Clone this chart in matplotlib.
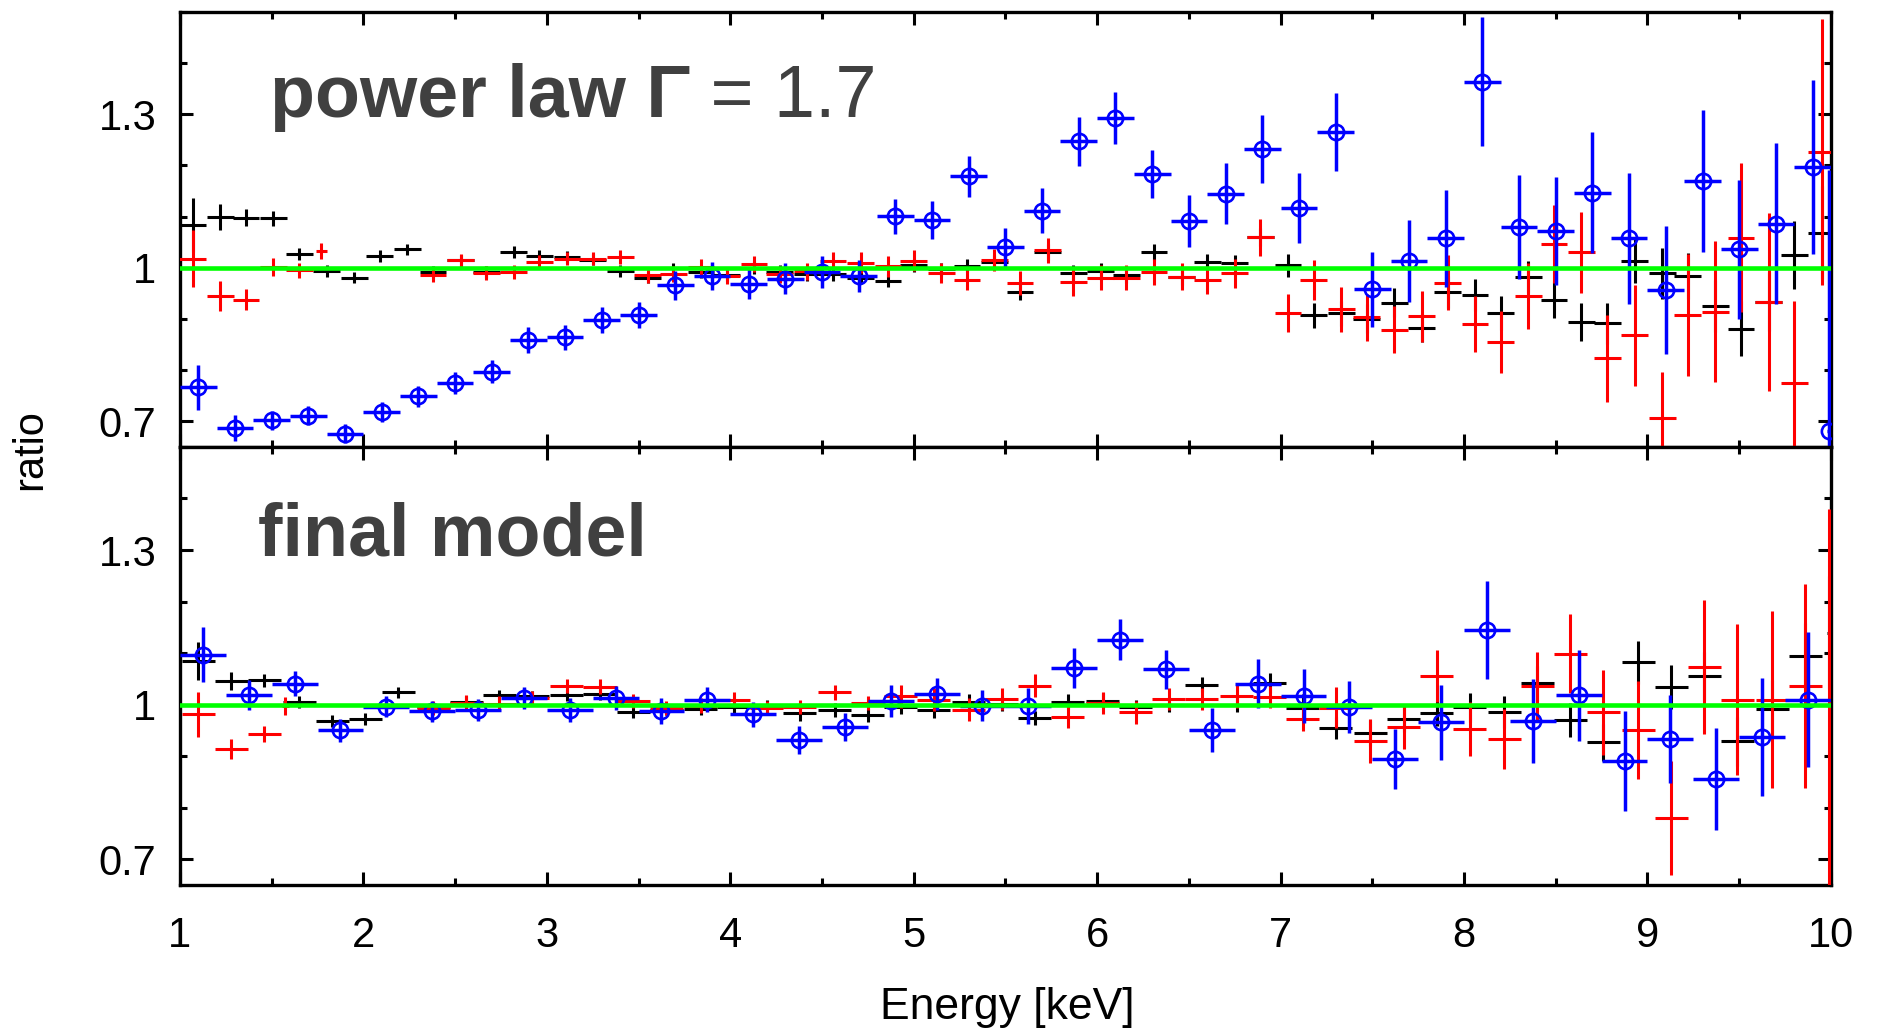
import numpy as np
import matplotlib
matplotlib.use("Agg")
import matplotlib.pyplot as plt
from matplotlib.ticker import MultipleLocator, FixedLocator, FixedFormatter

plt.rcParams['font.family'] = ['Liberation Sans', 'DejaVu Sans']

# ---------------- upper panel: power law fit ----------------
top_black_e = [1.07, 1.22, 1.36, 1.51, 1.65, 1.80, 1.95, 2.09, 2.24, 2.38,
               2.53, 2.67, 2.82, 2.96, 3.11, 3.25, 3.40, 3.55, 3.69, 3.84,
               3.98, 4.13, 4.27, 4.42, 4.56, 4.71, 4.86, 5.00, 5.15, 5.29,
               5.44, 5.58, 5.73, 5.87, 6.02, 6.16, 6.31, 6.46, 6.60, 6.75,
               6.89, 7.04, 7.18, 7.33, 7.47, 7.62, 7.77, 7.91, 8.06, 8.20,
               8.35, 8.49, 8.64, 8.78, 8.93, 9.08, 9.22, 9.37, 9.51, 9.66,
               9.80, 9.95]
top_black_r = [1.083, 1.099, 1.098, 1.097, 1.027, 0.994, 0.981, 1.023, 1.036, 0.992,
               1.015, 0.992, 1.031, 1.023, 1.021, 1.016, 0.994, 0.981, 0.999, 0.992,
               0.986, 1.000, 0.992, 0.988, 0.988, 0.981, 0.975, 1.005, 0.997, 1.004,
               1.012, 0.953, 1.031, 0.989, 0.993, 0.986, 1.031, 0.983, 1.012, 1.009,
               1.060, 1.005, 0.907, 0.911, 0.901, 0.932, 0.882, 0.953, 0.947, 0.912,
               0.982, 0.938, 0.895, 0.892, 1.014, 0.989, 0.984, 0.925, 0.881, 0.934,
               1.025, 1.069]
top_black_err = [0.053, 0.026, 0.017, 0.015, 0.011, 0.011, 0.011, 0.011, 0.011, 0.011,
                 0.011, 0.011, 0.011, 0.011, 0.011, 0.011, 0.011, 0.011, 0.011, 0.011,
                 0.011, 0.013, 0.013, 0.013, 0.013, 0.013, 0.013, 0.013, 0.013, 0.013,
                 0.013, 0.016, 0.016, 0.016, 0.016, 0.016, 0.016, 0.016, 0.016, 0.016,
                 0.018, 0.022, 0.024, 0.024, 0.028, 0.028, 0.027, 0.031, 0.031, 0.033,
                 0.032, 0.036, 0.037, 0.040, 0.043, 0.049, 0.045, 0.051, 0.054, 0.058,
                 0.067, 0.090]
top_black_de = 0.073

top_red_e = [1.07, 1.22, 1.36, 1.51, 1.65, 1.77,
             2.38, 2.53, 2.67, 2.82, 2.96, 3.11, 3.25, 3.40, 3.55, 3.69,
             3.84, 3.98, 4.13, 4.27, 4.42, 4.56, 4.71, 4.86, 5.00, 5.15,
             5.29, 5.44, 5.58, 5.73, 5.87, 6.02, 6.16, 6.31, 6.46, 6.60,
             6.75, 6.89, 7.04, 7.18, 7.33, 7.47, 7.62, 7.77, 7.91, 8.06,
             8.20, 8.35, 8.49, 8.64, 8.78, 8.93, 9.08, 9.22, 9.37, 9.51,
             9.66, 9.80, 9.95]
top_red_r = [1.018, 0.945, 0.938, 1.002, 0.995, 1.033,
             0.986, 1.015, 0.990, 0.992, 1.012, 1.018, 1.018, 1.021, 0.986, 0.988,
             1.002, 0.985, 1.008, 0.987, 0.993, 1.014, 1.010, 1.003, 1.014, 0.990,
             0.976, 1.015, 0.970, 1.034, 0.973, 0.981, 0.981, 0.992, 0.983, 0.976,
             0.989, 1.060, 0.911, 0.977, 0.919, 0.903, 0.879, 0.905, 0.971, 0.890,
             0.855, 0.945, 1.047, 1.030, 0.823, 0.868, 0.706, 0.908, 0.914, 1.059,
             0.934, 0.775, 1.226]
top_red_err = [0.055, 0.029, 0.020, 0.018, 0.015, 0.015,
               0.013, 0.013, 0.013, 0.013, 0.013, 0.013, 0.013, 0.013, 0.016, 0.016,
               0.016, 0.016, 0.016, 0.016, 0.016, 0.016, 0.020, 0.020, 0.020, 0.020,
               0.020, 0.021, 0.023, 0.025, 0.028, 0.025, 0.025, 0.026, 0.027, 0.028,
               0.028, 0.036, 0.037, 0.039, 0.044, 0.046, 0.046, 0.050, 0.054, 0.055,
               0.060, 0.065, 0.076, 0.080, 0.085, 0.099, 0.090, 0.120, 0.138, 0.145,
               0.174, 0.160, 0.260]
top_red_de = [0.073] * 5 + [0.03] + [0.073] * 53

top_blue_e = [1.1, 1.3, 1.5, 1.7, 1.9, 2.1, 2.3, 2.5, 2.7, 2.9,
              3.1, 3.3, 3.5, 3.7, 3.9, 4.1, 4.3, 4.5, 4.7, 4.9,
              5.1, 5.3, 5.5, 5.7, 5.9, 6.1, 6.3, 6.5, 6.7, 6.9,
              7.1, 7.3, 7.5, 7.7, 7.9, 8.1, 8.3, 8.5, 8.7, 8.9,
              9.1, 9.3, 9.5, 9.7, 9.9, 9.99]
top_blue_r = [0.767, 0.687, 0.702, 0.711, 0.676, 0.718, 0.749, 0.775, 0.797, 0.859,
              0.864, 0.898, 0.908, 0.966, 0.984, 0.969, 0.979, 0.992, 0.984, 1.101,
              1.093, 1.179, 1.040, 1.112, 1.247, 1.293, 1.184, 1.092, 1.145, 1.232,
              1.117, 1.265, 0.958, 1.014, 1.058, 1.364, 1.080, 1.072, 1.147, 1.058,
              0.956, 1.169, 1.036, 1.086, 1.197, 0.682]
top_blue_err = [0.044, 0.026, 0.019, 0.019, 0.019, 0.020, 0.020, 0.021, 0.022, 0.025,
                0.025, 0.026, 0.026, 0.028, 0.028, 0.029, 0.030, 0.031, 0.032, 0.034,
                0.037, 0.040, 0.038, 0.044, 0.048, 0.051, 0.047, 0.051, 0.060, 0.066,
                0.068, 0.076, 0.073, 0.080, 0.095, 0.126, 0.102, 0.105, 0.118, 0.128,
                0.125, 0.139, 0.135, 0.157, 0.170, 0.510]
top_blue_de = [0.1] * 45 + [0.01]

# ---------------- lower panel: final model ----------------
bot_black_e = [1.10, 1.28, 1.46, 1.65, 1.83, 2.01, 2.19, 2.38, 2.56, 2.74,
               2.92, 3.11, 3.29, 3.47, 3.65, 3.84, 4.02, 4.20, 4.38, 4.57,
               4.75, 4.93, 5.11, 5.30, 5.48, 5.66, 5.84, 6.03, 6.21, 6.39,
               6.57, 6.76, 6.94, 7.12, 7.30, 7.49, 7.67, 7.85, 8.03, 8.22,
               8.40, 8.58, 8.76, 8.95, 9.13, 9.31, 9.49, 9.68, 9.86, 9.99]
bot_black_r = [1.084, 1.046, 1.047, 1.005, 0.968, 0.972, 1.024, 0.995, 1.006, 1.018,
               1.016, 1.019, 1.020, 0.985, 0.990, 0.991, 0.995, 0.995, 0.983, 0.990,
               0.980, 0.995, 0.989, 1.006, 1.002, 0.974, 1.006, 1.008, 0.995, 1.000,
               1.039, 1.000, 1.042, 0.994, 0.955, 0.945, 0.972, 0.983, 0.995, 0.985,
               1.042, 0.970, 0.927, 1.082, 1.034, 1.056, 0.929, 0.992, 1.095, 1.140]
bot_black_err = [0.037, 0.018, 0.013, 0.011, 0.011, 0.011, 0.011, 0.011, 0.011, 0.011,
                 0.011, 0.011, 0.011, 0.011, 0.011, 0.011, 0.014, 0.014, 0.014, 0.014,
                 0.014, 0.014, 0.014, 0.014, 0.014, 0.014, 0.014, 0.014, 0.014, 0.014,
                 0.014, 0.014, 0.020, 0.026, 0.022, 0.026, 0.026, 0.025, 0.028, 0.031,
                 0.033, 0.033, 0.036, 0.041, 0.043, 0.046, 0.048, 0.056, 0.063, 0.110]
bot_black_de = [0.09] * 49 + [0.01]

bot_red_e = [1.10, 1.28, 1.46, 1.575,
             2.38, 2.56, 2.74, 2.92, 3.11, 3.29, 3.47, 3.65, 3.84, 4.02,
             4.20, 4.38, 4.57, 4.75, 4.93, 5.11, 5.30, 5.48, 5.66, 5.84,
             6.03, 6.21, 6.39, 6.57, 6.76, 6.94, 7.12, 7.30, 7.49, 7.67,
             7.85, 8.03, 8.22, 8.40, 8.58, 8.76, 8.95, 9.13, 9.31, 9.49,
             9.68, 9.86, 9.99]
bot_red_r = [0.981, 0.914, 0.943, 0.997,
             0.994, 1.004, 1.002, 1.013, 1.036, 1.035, 1.007, 0.994, 0.998, 1.010,
             0.994, 0.995, 1.024, 1.003, 1.016, 1.010, 0.990, 1.011, 1.037, 0.977,
             1.003, 0.985, 1.011, 1.011, 1.016, 1.015, 0.972, 0.994, 0.929, 0.957,
             1.056, 0.953, 0.933, 1.036, 1.099, 0.985, 0.950, 0.780, 1.073, 1.010,
             1.010, 1.037, 1.000]
bot_red_err = [0.044, 0.020, 0.016, 0.018,
               0.014, 0.014, 0.014, 0.014, 0.014, 0.014, 0.014, 0.014, 0.014, 0.014,
               0.014, 0.014, 0.014, 0.014, 0.022, 0.022, 0.022, 0.022, 0.022, 0.022,
               0.022, 0.022, 0.022, 0.022, 0.022, 0.022, 0.023, 0.040, 0.043, 0.044,
               0.050, 0.052, 0.058, 0.066, 0.077, 0.082, 0.095, 0.110, 0.130, 0.146,
               0.172, 0.198, 0.380]
bot_red_de = [0.09] * 3 + [0.02] + [0.09] * 42 + [0.01]

bot_blue_e = [1.125, 1.375, 1.625, 1.875, 2.125, 2.375, 2.625, 2.875, 3.125, 3.375,
              3.625, 3.875, 4.125, 4.375, 4.625, 4.875, 5.125, 5.375, 5.625, 5.875,
              6.125, 6.375, 6.625, 6.875, 7.125, 7.375, 7.625, 7.875, 8.125, 8.375,
              8.625, 8.875, 9.125, 9.375, 9.625, 9.875]
bot_blue_r = [1.097, 1.019, 1.041, 0.950, 0.996, 0.987, 0.990, 1.013, 0.990, 1.013,
              0.987, 1.010, 0.981, 0.932, 0.957, 1.008, 1.020, 0.998, 0.997, 1.071,
              1.126, 1.069, 0.951, 1.041, 1.017, 0.995, 0.894, 0.966, 1.144, 0.968,
              1.018, 0.890, 0.933, 0.856, 0.937, 1.010]
bot_blue_err = [0.053, 0.029, 0.025, 0.022, 0.020, 0.020, 0.021, 0.022, 0.023, 0.024,
                0.025, 0.025, 0.025, 0.027, 0.027, 0.031, 0.031, 0.030, 0.035, 0.038,
                0.040, 0.038, 0.043, 0.048, 0.053, 0.050, 0.058, 0.073, 0.095, 0.081,
                0.089, 0.097, 0.085, 0.099, 0.115, 0.131]
bot_blue_de = 0.125

yticks = [0.7, 1.0, 1.3]
ytick_labels = ['0.7', '1', '1.3']
xticks = [1, 2, 3, 4, 5, 6, 7, 8, 9, 10]

fig = plt.figure(figsize=(18.8, 10.32), dpi=100)
left, width = 0.0957, 0.8782
ax1 = fig.add_axes([left, 0.5669, width, 0.4215])
ax2 = fig.add_axes([left, 0.1424, width, 0.4245], sharex=ax1)

lw = 2.2


def draw_panel(ax, black, red, blue):
    e, r, err, de = black
    ax.errorbar(e, r, yerr=err, xerr=de, fmt='none', ecolor='black',
                elinewidth=lw, capsize=0, zorder=2)
    e, r, err, de = red
    ax.errorbar(e, r, yerr=err, xerr=de, fmt='none', ecolor='#ff0000',
                elinewidth=lw, capsize=0, zorder=3)
    e, r, err, de = blue
    ax.errorbar(e, r, yerr=err, xerr=de, fmt='o', color='#0000ff',
                ecolor='#0000ff', elinewidth=2.5, capsize=0, ms=11,
                mfc='none', mec='#0000ff', mew=1.9, zorder=4)
    ax.axhline(1.0, color='#00ff00', lw=3.3, zorder=6)

    ax.set_xlim(1, 10)
    ax.set_ylim(0.65, 1.5)
    ax.xaxis.set_major_locator(FixedLocator(xticks))
    ax.xaxis.set_minor_locator(MultipleLocator(0.5))
    ax.yaxis.set_major_locator(FixedLocator(yticks))
    ax.yaxis.set_major_formatter(FixedFormatter(ytick_labels))
    ax.yaxis.set_minor_locator(MultipleLocator(0.1))
    ax.tick_params(which='both', direction='in', top=True, right=True,
                   width=2.2, labelsize=30)
    ax.tick_params(which='major', length=9.5)
    ax.tick_params(which='minor', length=4.8)
    ax.tick_params(axis='y', pad=17)
    ax.tick_params(axis='x', pad=22)
    for sp in ax.spines.values():
        sp.set_linewidth(2.4)


draw_panel(ax1,
           (top_black_e, top_black_r, top_black_err, top_black_de),
           (top_red_e, top_red_r, top_red_err, top_red_de),
           (top_blue_e, top_blue_r, top_blue_err, top_blue_de))
draw_panel(ax2,
           (bot_black_e, bot_black_r, bot_black_err, bot_black_de),
           (bot_red_e, bot_red_r, bot_red_err, bot_red_de),
           (bot_blue_e, bot_blue_r, bot_blue_err, bot_blue_de))
ax1.tick_params(labelbottom=False)

gray = '#404040'
t1 = ax1.text(0.0545, 0.759, 'power law \u0393', transform=ax1.transAxes,
              fontsize=53, fontweight='bold', color=gray, va='baseline', zorder=7)
ax1.annotate(' = 1.7', xy=(1, 0), xycoords=t1, ha='left', va='bottom',
             fontsize=53, color=gray, zorder=7)
ax2.text(0.047, 0.753, 'final model', transform=ax2.transAxes,
         fontsize=53, fontweight='bold', color=gray, va='baseline', zorder=7)

fig.text(0.016, 0.564, 'ratio', rotation=90, fontsize=30,
         ha='center', va='center')
fig.text(0.5356, 0.0242, 'Energy [keV]', fontsize=32,
         ha='center', va='center')

fig.savefig('out.png', dpi=100)
